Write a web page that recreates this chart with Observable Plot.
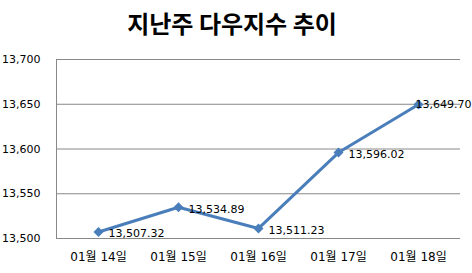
<!DOCTYPE html>
<html><head><meta charset="utf-8">
<script src="https://cdn.jsdelivr.net/npm/d3@7"></script>
<script src="https://cdn.jsdelivr.net/npm/@observablehq/plot@0.6"></script>
<style>
body{margin:0;background:#fff;font-family:"DejaVu Sans","Noto Sans CJK KR",sans-serif;}
#title{height:48px;width:464px;text-align:center;font-family:"Noto Sans CJK KR",sans-serif;font-size:24px;font-weight:bold;line-height:46px;color:#000;}
</style></head>
<body>
<div id="title">지난주 다우지수 추이</div>
<div id="chart"></div>
<script>
const dates = ["01월 14일","01월 15일","01월 16일","01월 17일","01월 18일"];
const values = [13507.32, 13534.89, 13511.23, 13596.02, 13649.70];
const yTicks = [13500, 13550, 13600, 13650, 13700];
const data = dates.map((d,i)=>({date:d, value:values[i]}));
const lastIdx = dates.length - 1;
const fmt = d3.format(",.2f");
const color = "#4A7EBB";
const chart = Plot.plot({
  width: 472, height: 225,
  marginTop: 11, marginBottom: 35, marginLeft: 56, marginRight: 12,
  style: {fontFamily: "'DejaVu Sans', 'Noto Sans CJK KR', sans-serif", fontSize: "11px", color: "#000", background: "#fff"},
  x: {type: "point", domain: dates, padding: 0.5, label: null},
  y: {domain: [13500, 13700], ticks: yTicks, label: null},
  marks: [
    Plot.gridY(yTicks, {stroke: "#888", strokeOpacity: 1}),
    Plot.frame({anchor: "left", stroke: "#888"}),
    Plot.axisY(yTicks, {tickSize: 0, tickPadding: 16, tickFormat: d3.format(","), fontSize: 11}),
    Plot.axisX({tickSize: 0, tickPadding: 14, fontSize: 12}),
    Plot.line(data, {x: "date", y: "value", stroke: color, strokeWidth: 3}),
    Plot.dot(data, {x: "date", y: "value", symbol: "diamond2", r: 4.5, fill: color}),
    Plot.text(data.filter((d,i)=>i<lastIdx), {x: "date", y: "value", text: d=>fmt(d.value), textAnchor: "start", dx: 10, dy: 2, fontSize: 11, fill: "#000"}),
    Plot.text(data.filter((d,i)=>i===lastIdx), {x: "date", y: "value", text: d=>fmt(d.value), textAnchor: "start", dx: -3, dy: 0, fontSize: 11, fill: "#000"})
  ]
});
document.getElementById("chart").appendChild(chart);
</script>
</body></html>
